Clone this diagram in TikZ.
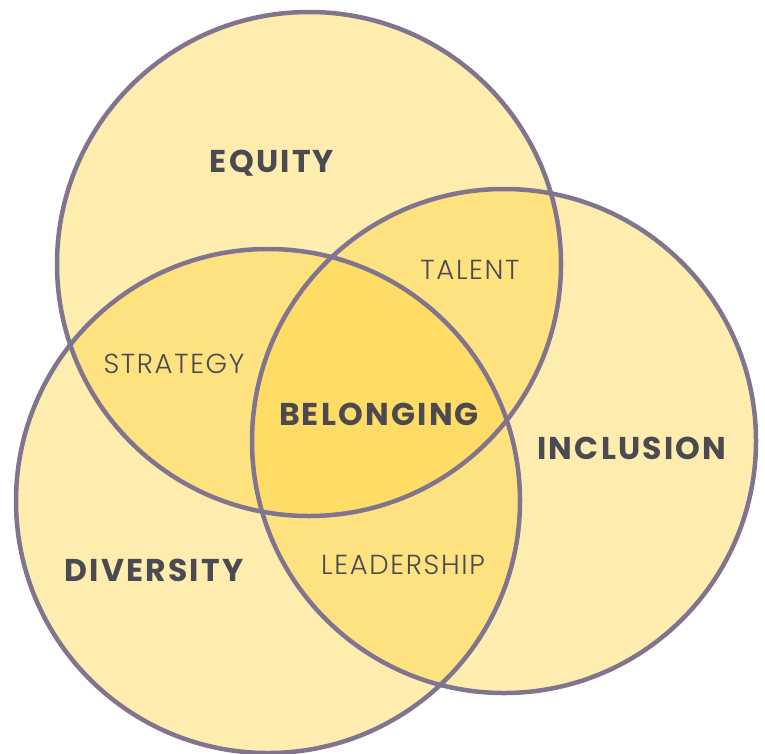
\documentclass[tikz,border=0pt]{standalone}
\usepackage{fontspec}
\setmainfont{Poppins}
\IfFontExistsTF{Poppins Light}
  {\newfontfamily\thinfont{Poppins Light}[LetterSpace=6]}
  {\newfontfamily\thinfont{Poppins}[LetterSpace=6]}
\newfontfamily\boldfont{Poppins}[LetterSpace=7]
\definecolor{VennFill}{RGB}{255,212,64}
\definecolor{VennRim}{RGB}{128,116,142}
\definecolor{VennInk}{RGB}{74,74,80}
\tikzstyle{Ring}=[circle,fill=VennFill,fill opacity=.42,inner sep=0pt,
minimum size=506pt]
\tikzstyle{RingEdge}=[draw=VennRim,line width=4.5pt]
\tikzstyle{Title}=[text=VennInk,inner sep=0pt,
font={\boldfont\bfseries\fontsize{31.5}{33}\selectfont}]
\tikzstyle{Tag}=[text=VennInk,inner sep=0pt,
font={\thinfont\fontsize{27.5}{29}\selectfont}]

\begin{document}
\begin{tikzpicture}[x=1pt,y=-1pt]
        \useasboundingbox (0,0) rectangle (765,753);
        % the three sets
        \node[Ring](equity)at(309,264){};
        \node[Ring](inclusion)at(504,441){};
        \node[Ring](diversity)at(268,501){};
        \foreach \c in {equity,inclusion,diversity}
            \draw[RingEdge](\c.center) circle[radius=252];
        % labels
        \node[Title](equityL)at(272,163){EQUITY};
        \node[Title](inclusionL)at(632,448){INCLUSION};
        \node[Title](diversityL)at(154,570){DIVERSITY};
        \node[Title](belonging)at(379,414){BELONGING};
        \node[Tag](talent)at(470,270){TALENT};
        \node[Tag](strategy)at(174,364){STRATEGY};
        \node[Tag](leadership)at(403,565){LEADERSHIP};
    \end{tikzpicture}
\end{document}
